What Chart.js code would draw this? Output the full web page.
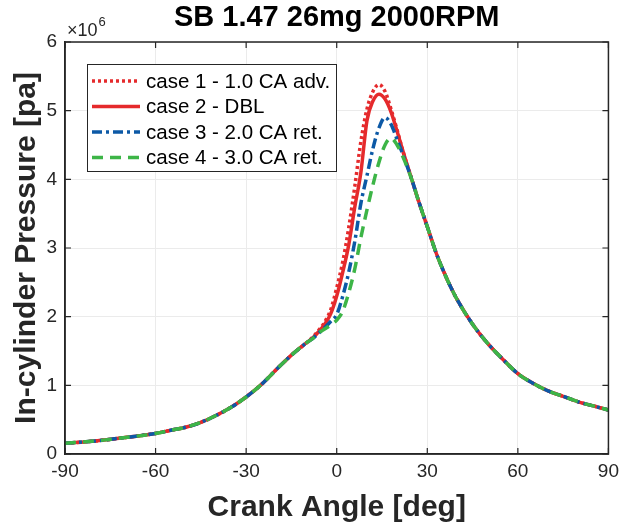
<!DOCTYPE html>
<html>
<head>
<meta charset="utf-8">
<script src="https://cdn.jsdelivr.net/npm/chart.js@4/dist/chart.umd.min.js"></script>
<style>
html,body{margin:0;padding:0;background:#fff;}
canvas{display:block;}
</style>
</head>
<body>
<canvas id="c" width="625" height="530"></canvas>
<script>
// ---- data (pressure in units of 1e6 Pa) ----
const chartTitle = "SB 1.47 26mg 2000RPM";
const xTitle = "Crank Angle [deg]";
const yTitle = "In-cylinder Pressure [pa]";
const seriesNames = ["case 1 - 1.0 CA adv.", "case 2 - DBL", "case 3 - 2.0 CA ret.", "case 4 - 3.0 CA ret."];
const xTicks = [-90, -60, -30, 0, 30, 60, 90];
const yTicks = [0, 1, 2, 3, 4, 5, 6];

const crankAngle = [-90,-80,-70,-60,-55,-50,-45,-40,-35,-30,-25,-20,-15,-10,-8,-6,-4,-2,0,2,4,6,8,10,12,14,16,18,20,22,25,27,30,33,36,38,40,45,50,55,60,65,70,75,80,85,90];

const case1 = [0.155,0.19,0.24,0.30,0.345,0.39,0.46,0.56,0.68,0.83,1.01,1.23,1.44,1.62,1.70,1.80,1.92,2.10,2.42,2.80,3.30,3.90,4.55,5.02,5.28,5.38,5.28,5.02,4.72,4.40,3.98,3.70,3.31,2.92,2.60,2.41,2.24,1.89,1.61,1.38,1.17,1.03,0.92,0.84,0.76,0.70,0.64];
const case2 = [0.155,0.19,0.24,0.30,0.345,0.39,0.46,0.56,0.68,0.83,1.01,1.23,1.44,1.62,1.69,1.78,1.89,2.04,2.30,2.65,3.05,3.60,4.10,4.85,5.14,5.24,5.17,4.98,4.70,4.40,3.98,3.70,3.31,2.92,2.60,2.41,2.24,1.89,1.61,1.38,1.17,1.03,0.92,0.84,0.76,0.70,0.64];
const case3 = [0.155,0.19,0.24,0.30,0.345,0.39,0.46,0.56,0.68,0.83,1.01,1.23,1.44,1.62,1.68,1.76,1.84,1.93,2.03,2.30,2.65,3.10,3.65,4.05,4.45,4.75,4.90,4.80,4.58,4.35,3.98,3.70,3.31,2.92,2.60,2.41,2.24,1.89,1.61,1.38,1.17,1.03,0.92,0.84,0.76,0.70,0.64];
const case4 = [0.155,0.19,0.24,0.30,0.345,0.39,0.46,0.56,0.68,0.83,1.01,1.23,1.44,1.62,1.68,1.76,1.82,1.88,1.95,2.08,2.35,2.70,3.15,3.55,3.92,4.25,4.50,4.60,4.50,4.32,3.98,3.70,3.31,2.92,2.60,2.41,2.24,1.89,1.61,1.38,1.17,1.03,0.92,0.84,0.76,0.70,0.64];

// ---- styles ----
const RED = '#e52a2c', BLUE = '#0c59a6', GREEN = '#3db547';
const AXC = '#262626';
const FONT = '"Liberation Sans", Arial, Helvetica, sans-serif';

function pts(vals){ return crankAngle.map((a,i)=>({x:a, y:vals[i]})); }

const styles = [
  {color: RED,   dash: [3,3],          width: 3.5},
  {color: RED,   dash: [],             width: 3.5},
  {color: BLUE,  dash: [10,4,3,4],     width: 3.5},
  {color: GREEN, dash: [11,7],         width: 3.5}
];
const allVals = [case1, case2, case3, case4];

const datasets = allVals.map((v,i)=>({
  label: seriesNames[i],
  data: pts(v),
  borderColor: styles[i].color,
  borderDash: styles[i].dash,
  borderWidth: styles[i].width,
  pointRadius: 0,
  fill: false,
  cubicInterpolationMode: 'monotone',
  borderCapStyle: 'butt',
  order: 3 - i   // case 4 drawn last (on top)
}));

const decor = {
  id: 'decor',
  afterDraw(chart){
    const ctx = chart.ctx;
    const a = chart.chartArea;
    const xs = chart.scales.x, ys = chart.scales.y;
    ctx.save();
    // box
    ctx.strokeStyle = AXC; ctx.lineWidth = 1.5;
    ctx.strokeRect(a.left, a.top, a.right - a.left, a.bottom - a.top);
    // inward ticks
    const tl = 6;
    ctx.lineWidth = 1.2;
    ctx.beginPath();
    xTicks.forEach(t=>{
      const px = xs.getPixelForValue(t);
      ctx.moveTo(px, a.bottom); ctx.lineTo(px, a.bottom - tl);
      ctx.moveTo(px, a.top); ctx.lineTo(px, a.top + tl);
    });
    yTicks.forEach(t=>{
      const py = ys.getPixelForValue(t);
      ctx.moveTo(a.left, py); ctx.lineTo(a.left + tl, py);
      ctx.moveTo(a.right, py); ctx.lineTo(a.right - tl, py);
    });
    ctx.stroke();

    // exponent label
    ctx.fillStyle = AXC;
    ctx.textBaseline = 'alphabetic';
    ctx.textAlign = 'left';
    ctx.font = '18px ' + FONT;
    ctx.fillText('\u00d710', a.left + 2, a.top - 6);
    const w = ctx.measureText('\u00d710').width;
    ctx.font = '13px ' + FONT;
    ctx.fillText('6', a.left + 3 + w, a.top - 16);

    // title
    ctx.fillStyle = '#000';
    ctx.font = 'bold 29px ' + FONT;
    ctx.textAlign = 'center';
    ctx.textBaseline = 'middle';
    ctx.fillText(chartTitle, (a.left + a.right)/2, 18);

    // axis titles
    ctx.fillStyle = AXC;
    ctx.font = 'bold 30px ' + FONT;
    ctx.fillText(xTitle, (a.left + a.right)/2, 508);
    ctx.save();
    ctx.translate(27, (a.top + a.bottom)/2);
    ctx.rotate(-Math.PI/2);
    ctx.fillText(yTitle, 0, 0);
    ctx.restore();

    // legend
    const bx = 87, by = 64, bw = 249, bh = 107;
    ctx.fillStyle = '#fff';
    ctx.fillRect(bx, by, bw, bh);
    ctx.strokeStyle = AXC; ctx.lineWidth = 1;
    ctx.strokeRect(bx + 0.5, by + 0.5, bw, bh);
    ctx.font = '20.5px ' + FONT;
    ctx.textAlign = 'left';
    ctx.textBaseline = 'middle';
    seriesNames.forEach((name,i)=>{
      const y = by + 17 + i*25.5;
      ctx.save();
      ctx.strokeStyle = styles[i].color;
      ctx.lineWidth = styles[i].width;
      ctx.setLineDash(styles[i].dash);
      ctx.beginPath();
      ctx.moveTo(92, y); ctx.lineTo(140, y);
      ctx.stroke();
      ctx.restore();
      ctx.fillStyle = '#000';
      ctx.fillText(name, 146, y + 1);
    });
    ctx.restore();
  }
};

new Chart(document.getElementById('c'), {
  type: 'line',
  data: { datasets },
  options: {
    responsive: false,
    animation: false,
    devicePixelRatio: 1,
    layout: { padding: { top: 42, left: 0, right: 13, bottom: 0 } },
    plugins: { legend: { display: false }, title: { display: false }, tooltip: { enabled: false } },
    scales: {
      x: {
        type: 'linear', min: -90, max: 90,
        afterBuildTicks: s => { s.ticks = xTicks.map(v=>({value:v})); },
        afterFit: s => { s.height = 76; },
        ticks: { color: AXC, font: { family: FONT, size: 19 }, padding: 6, maxRotation: 0 },
        grid: { color: '#ebebeb', drawTicks: false, lineWidth: 1 },
        border: { color: AXC, width: 1.5 }
      },
      y: {
        type: 'linear', min: 0, max: 6,
        afterBuildTicks: s => { s.ticks = yTicks.map(v=>({value:v})); },
        afterFit: s => { s.width = 65; },
        ticks: { color: AXC, font: { family: FONT, size: 19 }, padding: 8 },
        grid: { color: '#ebebeb', drawTicks: false, lineWidth: 1 },
        border: { color: AXC, width: 1.5 }
      }
    }
  },
  plugins: [decor]
});
</script>
</body>
</html>
